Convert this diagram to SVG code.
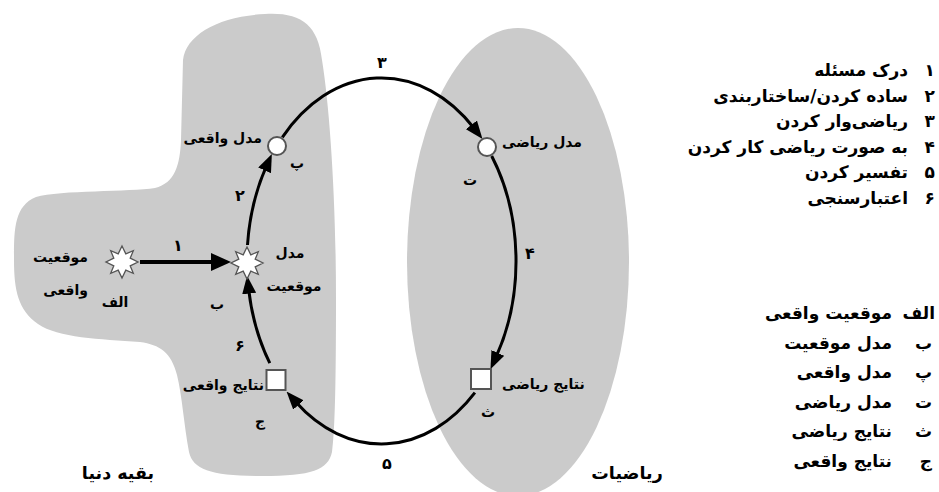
<svg xmlns="http://www.w3.org/2000/svg" xmlns:xlink="http://www.w3.org/1999/xlink" width="939" height="492" viewBox="0 0 939 492">
<style>
.region{fill:#cbcbcb;stroke:none}
.t{font-family:"DejaVu Sans",sans-serif;font-weight:bold;fill:#000}
.lbl{font-size:14px}
.num{font-size:16px}
.lst{font-size:17px}
.big{font-size:17.5px}
.conn{fill:none;stroke:#000;stroke-width:3}
.c1{fill:none;stroke:#000;stroke-width:4}
.nodeshape{fill:#fff;stroke:#555;stroke-width:2}
.starshape{fill:#fff;stroke:#555;stroke-width:1.3}
</style>
<defs>
<marker id="ah" markerUnits="userSpaceOnUse" markerWidth="18" markerHeight="14" refX="4" refY="7" orient="auto">
<path d="M0,0 L18,7 L0,14 z" fill="#000"/>
</marker>
<marker id="ah1" markerUnits="userSpaceOnUse" markerWidth="20" markerHeight="18" refX="4" refY="9" orient="auto">
<path d="M0,0 L20,9 L0,18 z" fill="#000"/>
</marker>
<path id="star" d="M0,-16 L3.8,-8.2 L11.3,-11.3 L8.2,-3.8 L16,0 L8.2,3.8 L11.3,11.3 L3.8,8.2 L0,16 L-3.8,8.2 L-11.3,11.3 L-8.2,3.8 L-16,0 L-8.2,-3.8 L-11.3,-11.3 L-3.8,-8.2 Z"/>
</defs>

<!-- regions -->
<path class="region" d="M183,60 C186,34 220,16 265,14 C300,12 318,24 322,60 C330,110 336,200 336,300 C336,380 335,430 332,452 C328,470 312,476 262,476 C212,476 193,470 189,452 C184,425 182,395 177,375 C171,352 160,345 140,342 C100,339 58,338 38,324 C18,310 14,290 14,260 C14,230 14,206 36,197 C60,190 130,192 155,188 C175,183 180,165 181,140 Z"/>
<ellipse class="region" cx="518" cy="262" rx="111" ry="234"/>

<!-- connectors -->
<g id="connectors">
<path class="c1" d="M140,262 L215,262" marker-end="url(#ah1)"/>
<path class="conn" d="M247.5,245 A134.5 183 0 0 1 266.2,166.7" marker-end="url(#ah)"/>
<path class="conn" d="M282.3,137.4 A134.5 183 0 0 1 473.9,128" marker-end="url(#ah)"/>
<path class="conn" d="M491.7,156 A134.5 183 0 0 1 496.2,356.6" marker-end="url(#ah)"/>
<path class="conn" d="M474.9,392.6 A134.5 183 0 0 1 295.8,402" marker-end="url(#ah)"/>
<path class="conn" d="M269.8,363.1 A134.5 183 0 0 1 248.7,289.6" marker-end="url(#ah)"/>
<text class="t num" x="178" y="251" text-anchor="middle">۱</text>
<text class="t num" x="240" y="201" text-anchor="middle">۲</text>
<text class="t num" x="382" y="68" text-anchor="middle">۳</text>
<text class="t num" x="530" y="259" text-anchor="middle">۴</text>
<text class="t num" x="387" y="469" text-anchor="middle">۵</text>
<text class="t num" x="240" y="351" text-anchor="middle">۶</text>
</g>

<!-- nodes -->
<g id="node-alef">
<use xlink:href="#star" x="122" y="262" class="starshape"/>
<text class="t lbl" x="88" y="262" text-anchor="end">موقعیت</text>
<text class="t lbl" x="88" y="295" text-anchor="end">واقعی</text>
<text class="t lbl" x="115" y="307" text-anchor="middle">الف</text>
</g>
<g id="node-be">
<use xlink:href="#star" x="247" y="263" class="starshape"/>
<text class="t lbl" x="290" y="258" text-anchor="middle">مدل</text>
<text class="t lbl" x="294" y="291" text-anchor="middle">موقعیت</text>
<text class="t lbl" x="217" y="309" text-anchor="middle">ب</text>
</g>
<g id="node-pe">
<circle cx="277" cy="146" r="9" class="nodeshape"/>
<text class="t lbl" x="262" y="143" text-anchor="end">مدل واقعی</text>
<text class="t lbl" x="297" y="168" text-anchor="middle">پ</text>
</g>
<g id="node-te">
<circle cx="487" cy="147" r="9" class="nodeshape"/>
<text class="t lbl" x="502" y="147" text-anchor="start">مدل ریاضی</text>
<text class="t lbl" x="470" y="185" text-anchor="middle">ت</text>
</g>
<g id="node-se">
<rect x="471" y="369" width="20" height="20" class="nodeshape"/>
<text class="t lbl" x="502" y="389" text-anchor="start">نتایج ریاضی</text>
<text class="t lbl" x="488" y="417" text-anchor="middle">ث</text>
</g>
<g id="node-jim">
<rect x="266.5" y="370" width="19" height="20" class="nodeshape"/>
<text class="t lbl" x="264" y="390" text-anchor="end">نتایج واقعی</text>
<text class="t lbl" x="260" y="426" text-anchor="middle">ج</text>
</g>

<!-- region titles -->
<text class="t big" x="118" y="479" text-anchor="middle">بقیه دنیا</text>
<text class="t big" x="627" y="479" text-anchor="middle">ریاضیات</text>

<!-- legend: steps -->
<g id="legend-steps">
<text class="t lst" x="935" y="76" text-anchor="end">۱</text>
<text class="t lst" x="908" y="76" direction="rtl" text-anchor="start">درک مسئله</text>
<text class="t lst" x="935" y="102" text-anchor="end">۲</text>
<text class="t lst" x="908" y="102" direction="rtl" text-anchor="start">ساده کردن/ساختاربندی</text>
<text class="t lst" x="935" y="127" text-anchor="end">۳</text>
<text class="t lst" x="908" y="127" direction="rtl" text-anchor="start">ریاضی‌وار کردن</text>
<text class="t lst" x="935" y="153" text-anchor="end">۴</text>
<text class="t lst" x="908" y="153" direction="rtl" text-anchor="start">به صورت ریاضی کار کردن</text>
<text class="t lst" x="935" y="178" text-anchor="end">۵</text>
<text class="t lst" x="908" y="178" direction="rtl" text-anchor="start">تفسیر کردن</text>
<text class="t lst" x="935" y="204" text-anchor="end">۶</text>
<text class="t lst" x="908" y="204" direction="rtl" text-anchor="start">اعتبارسنجی</text>
</g>

<!-- legend: states -->
<g id="legend-states">
<text class="t lst" x="935" y="319" direction="rtl" text-anchor="start">الف</text>
<text class="t lst" x="892" y="319" direction="rtl" text-anchor="start">موقعیت واقعی</text>
<text class="t lst" x="932" y="349" direction="rtl" text-anchor="start">ب</text>
<text class="t lst" x="892" y="349" direction="rtl" text-anchor="start">مدل موقعیت</text>
<text class="t lst" x="932" y="378" direction="rtl" text-anchor="start">پ</text>
<text class="t lst" x="892" y="378" direction="rtl" text-anchor="start">مدل واقعی</text>
<text class="t lst" x="932" y="408" direction="rtl" text-anchor="start">ت</text>
<text class="t lst" x="892" y="408" direction="rtl" text-anchor="start">مدل ریاضی</text>
<text class="t lst" x="932" y="437" direction="rtl" text-anchor="start">ث</text>
<text class="t lst" x="892" y="437" direction="rtl" text-anchor="start">نتایج ریاضی</text>
<text class="t lst" x="932" y="467" direction="rtl" text-anchor="start">ج</text>
<text class="t lst" x="892" y="467" direction="rtl" text-anchor="start">نتایج واقعی</text>
</g>
</svg>
